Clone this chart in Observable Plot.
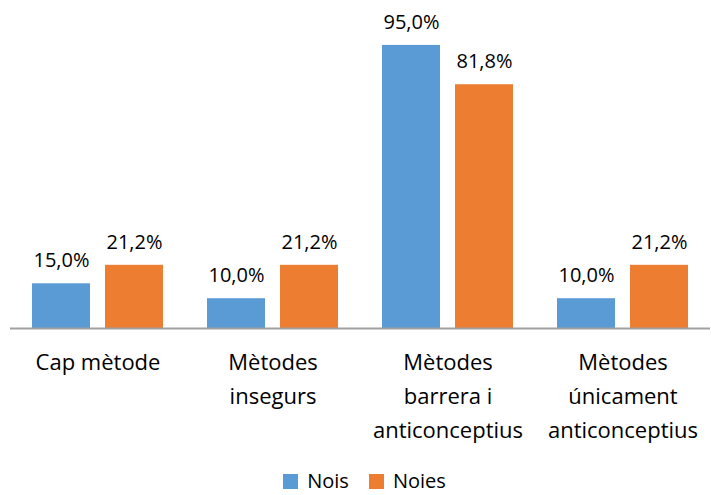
<!DOCTYPE html>
<html>
<head>
<meta charset="utf-8">
<script src="https://cdn.jsdelivr.net/npm/d3@7"></script>
<script src="https://cdn.jsdelivr.net/npm/@observablehq/plot@0.6"></script>
<style>
  html, body { margin: 0; background: #fff; font-family: "Open Sans", sans-serif; overflow: hidden; }
  #chart svg { display: block; }
  #legend { display: flex; justify-content: center; align-items: center; height: 28px; margin-top: 9px; font-size: 20px; line-height: 28px; color: #000; padding-left: 18px; }
  .item { display: flex; align-items: center; margin: 0 10px; }
  .sw { width: 15px; height: 15px; margin-right: 9px; }
</style>
</head>
<body>
<div id="chart"></div>
<script>
const categories = ["Cap mètode", "Mètodes inseguros", "Mètodes barrera i anticonceptius", "Mètodes únicament anticonceptius"];
const categoryLabels = ["Cap mètode", "Mètodes\ninsegurs", "Mètodes\nbarrera i\nanticonceptius", "Mètodes\núnicament\nanticonceptius"];
const seriesNames = ["Nois", "Noies"];
const nois = [15.0, 10.0, 95.0, 10.0];
const noies = [21.2, 21.2, 81.8, 21.2];
const colors = ["#5B9BD5", "#ED7D31"];

const rows = [];
categories.forEach((c, i) => {
  rows.push({cat: c, label: categoryLabels[i], sex: seriesNames[0], value: nois[i]});
  rows.push({cat: c, label: categoryLabels[i], sex: seriesNames[1], value: noies[i]});
});
const fmt = v => v.toFixed(1).replace(".", ",") + "%";

const chart = Plot.plot({
  width: 711,
  height: 458,
  marginLeft: 9,
  marginRight: 0,
  marginTop: 30,
  marginBottom: 130,
  style: {fontFamily: "Open Sans, sans-serif", color: "#000", background: "#fff"},
  fx: {domain: categories, padding: 0, axis: null},
  x: {domain: seriesNames, paddingInner: 0.2, paddingOuter: 0.29, axis: null},
  y: {domain: [0, 100], axis: null},
  color: {domain: seriesNames, range: colors},
  marks: [
    Plot.barY(rows, {fx: "cat", x: "sex", y: "value", fill: "sex"}),
    Plot.text(rows, {fx: "cat", x: "sex", y: "value", text: d => fmt(d.value), lineAnchor: "middle", dy: -23, fontSize: 20, fill: "#000"}),
    Plot.ruleY([0], {stroke: "#a0a0a0", strokeWidth: 2}),
    Plot.text(rows.filter(d => d.sex === seriesNames[0]), {fx: "cat", y: 0, text: "label", lineAnchor: "top", dy: 17, lineHeight: 1.545, fontSize: 22, fill: "#000"})
  ]
});
document.getElementById("chart").appendChild(chart);

const legend = document.createElement("div");
legend.id = "legend";
seriesNames.forEach((s, i) => {
  const it = document.createElement("div");
  it.className = "item";
  it.innerHTML = `<span class="sw" style="background:${colors[i]}"></span><span>${s}</span>`;
  legend.appendChild(it);
});
document.body.appendChild(legend);
</script>
</body>
</html>
